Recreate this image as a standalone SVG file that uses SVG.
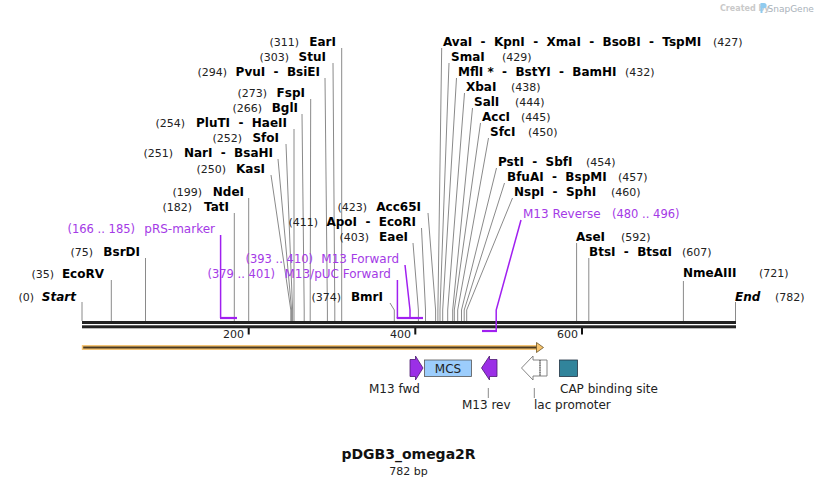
<svg xmlns="http://www.w3.org/2000/svg" width="818" height="487" viewBox="0 0 818 487">
<style>
text{font-family:"DejaVu Sans","Liberation Sans",sans-serif}
.n{font-size:11px;fill:#222}
.b{font-size:12px;font-weight:bold;fill:#000}
.bi{font-size:12px;font-weight:bold;font-style:italic;fill:#000}
.p{font-size:12px;fill:#a43ae6}
.pn{font-size:11.5px;fill:#a43ae6}
.f{font-size:12px;fill:#222}
.e{text-anchor:end}
.l{stroke:#8a8a8a;stroke-width:1;fill:none}
.pl{stroke:#a020f0;stroke-width:1.5;fill:none}
.pb{stroke:#a020f0;stroke-width:2.2;fill:none}
</style>
<rect width="818" height="487" fill="#fff"/>

<g id="watermark">
<text x="720" y="11" style="font-size:8px;font-weight:bold;fill:#c9c9c9">Created by</text>
<path d="M760.5 3h3.5a2.6 2.6 0 0 1 0 5.2h-1.5v4.8h-2z" fill="#8fcbef"/>
<text x="767.5" y="11.5" style="font-size:9px;fill:#a9b2ba">SnapGene</text>
</g>

<g id="backbone">
<rect x="82" y="321" width="654" height="3" fill="#222"/>
<rect x="82" y="325.3" width="654" height="3" fill="#222"/>
<rect x="247.7" y="328" width="2" height="6.5" fill="#111"/>
<rect x="414.3" y="328" width="2" height="6.5" fill="#111"/>
<rect x="581" y="328" width="2" height="6.5" fill="#111"/>
<text class="n e" x="244" y="338">200</text>
<text class="n e" x="411" y="338">400</text>
<text class="n e" x="578" y="338">600</text>
</g>

<g id="connectors">
<polyline class="l" points="82,302 82,321"/>
<polyline class="l" points="111.3,280 111.3,321"/>
<polyline class="l" points="145.5,258 145.5,321"/>
<polyline class="l" points="234.3,213 234.3,321"/>
<polyline class="l" points="248.7,198 248.7,321"/>
<polyline class="l" points="271,175 290.8,310 290.8,321"/>
<polyline class="l" points="278,159 291.6,310 291.6,321"/>
<polyline class="l" points="286,144 292.6,310 292.6,321"/>
<polyline class="l" points="294,129 294,321"/>
<polyline class="l" points="302,114 304.2,310 304.2,321"/>
<polyline class="l" points="310.7,99 310.2,310 310.2,321"/>
<polyline class="l" points="325,78 327.4,310 327.4,321"/>
<polyline class="l" points="333,63 334.8,310 334.8,321"/>
<polyline class="l" points="341.7,48 341.7,321"/>
<polyline class="l" points="390,303 394.3,310 394.3,321"/>
<polyline class="l" points="413,243 418.4,310 418.4,321"/>
<polyline class="l" points="421.5,228 425.5,310 425.5,321"/>
<polyline class="l" points="428,213 435.6,310 435.6,321"/>
<polyline class="l" points="441.7,48 437.9,310 437.9,321"/>
<polyline class="l" points="449,63 440,310 440,321"/>
<polyline class="l" points="456.5,78 442.7,310 442.7,321"/>
<polyline class="l" points="464.5,93 447.7,310 447.7,321"/>
<polyline class="l" points="472.5,108 452.7,310 452.7,321"/>
<polyline class="l" points="480.5,123 454.3,310 454.3,321"/>
<polyline class="l" points="488.5,138 457.7,310 457.7,321"/>
<polyline class="l" points="496.5,168 461.5,310 461.5,321"/>
<polyline class="l" points="504.5,183 464.2,310 464.2,321"/>
<polyline class="l" points="512.5,198 466.7,310 466.7,321"/>
<polyline class="l" points="576.6,243 576.6,321"/>
<polyline class="l" points="588.8,258 588.8,321"/>
<polyline class="l" points="683.4,281 683.4,321"/>
<polyline class="l" points="735.5,302 735.5,321"/>
<polyline class="pl" points="220.6,235 220.6,318"/>
<polyline class="pb" points="220,318 237,318"/>
<polyline class="pl" points="397.4,280 397.4,318"/>
<polyline class="pl" points="405,265 410,310 410,318"/>
<polyline class="pb" points="396.7,318 423,318"/>
<polyline class="pl" points="521,220 496.2,310 496.2,331"/>
<polyline class="pb" points="482,331 497,331"/>
<polyline class="l" points="488.3,388 488.3,398"/>
<polyline class="l" points="534.3,388 534.3,398"/>
</g>

<g id="start"><text class="n e" x="34" y="301">(0)</text><text class="bi e" x="76" y="301">Start</text></g>
<g id="EcoRV"><text class="n e" x="54" y="278">(35)</text><text class="b e" x="104" y="278">EcoRV</text></g>
<g id="BsrDI"><text class="n e" x="93" y="256">(75)</text><text class="b e" x="140" y="256">BsrDI</text></g>
<g id="pRS-marker"><text class="pn e" x="135" y="233">(166 .. 185)</text><text class="p e" x="215" y="233">pRS-marker</text></g>
<g id="TatI"><text class="n e" x="192" y="211">(182)</text><text class="b e" x="229" y="211">TatI</text></g>
<g id="NdeI"><text class="n e" x="202" y="196">(199)</text><text class="b e" x="244" y="196">NdeI</text></g>
<g id="KasI"><text class="n e" x="226" y="173">(250)</text><text class="b e" x="265" y="173">KasI</text></g>
<g id="NarI"><text class="n e" x="173" y="157">(251)</text><text class="b e" x="273" y="157" xml:space="preserve">NarI  -  BsaHI</text></g>
<g id="SfoI"><text class="n e" x="242" y="142">(252)</text><text class="b e" x="279" y="142">SfoI</text></g>
<g id="PluTI"><text class="n e" x="185" y="127">(254)</text><text class="b e" x="287" y="127" xml:space="preserve">PluTI  -  HaeII</text></g>
<g id="BglI"><text class="n e" x="262" y="112">(266)</text><text class="b e" x="298" y="112">BglI</text></g>
<g id="FspI"><text class="n e" x="267" y="97">(273)</text><text class="b e" x="305" y="97">FspI</text></g>
<g id="PvuI"><text class="n e" x="227" y="76">(294)</text><text class="b e" x="320" y="76" xml:space="preserve">PvuI  -  BsiEI</text></g>
<g id="StuI"><text class="n e" x="289" y="61">(303)</text><text class="b e" x="326" y="61">StuI</text></g>
<g id="EarI"><text class="n e" x="299" y="46">(311)</text><text class="b e" x="336" y="46">EarI</text></g>
<g id="M13pUCForward"><text class="pn e" x="275" y="278">(379 .. 401)</text><text class="p e" x="391" y="278">M13/pUC Forward</text></g>
<g id="M13Forward"><text class="pn e" x="313" y="263">(393 .. 410)</text><text class="p e" x="399" y="263">M13 Forward</text></g>
<g id="BmrI"><text class="n e" x="341" y="301">(374)</text><text class="b e" x="383" y="301">BmrI</text></g>
<g id="EaeI"><text class="n e" x="369" y="241">(403)</text><text class="b e" x="408" y="241">EaeI</text></g>
<g id="ApoI"><text class="n e" x="318" y="226">(411)</text><text class="b e" x="416" y="226" xml:space="preserve">ApoI  -  EcoRI</text></g>
<g id="Acc65I"><text class="n e" x="367" y="211">(423)</text><text class="b e" x="421" y="211">Acc65I</text></g>

<g id="AvaI"><text class="b" x="443" y="46" xml:space="preserve">AvaI  -  KpnI  -  XmaI  -  BsoBI  -  TspMI</text><text class="n" x="713" y="46">(427)</text></g>
<g id="SmaI"><text class="b" x="451" y="61">SmaI</text><text class="n" x="502" y="61">(429)</text></g>
<g id="MflI"><text class="b" x="458" y="76" xml:space="preserve">MflI *  -  BstYI  -  BamHI</text><text class="n" x="625" y="76">(432)</text></g>
<g id="XbaI"><text class="b" x="466" y="91">XbaI</text><text class="n" x="511" y="91">(438)</text></g>
<g id="SalI"><text class="b" x="474" y="106">SalI</text><text class="n" x="515" y="106">(444)</text></g>
<g id="AccI"><text class="b" x="482" y="121">AccI</text><text class="n" x="521" y="121">(445)</text></g>
<g id="SfcI"><text class="b" x="490" y="136">SfcI</text><text class="n" x="528" y="136">(450)</text></g>
<g id="PstI"><text class="b" x="498" y="166" xml:space="preserve">PstI  -  SbfI</text><text class="n" x="586" y="166">(454)</text></g>
<g id="BfuAI"><text class="b" x="507" y="181" xml:space="preserve">BfuAI  -  BspMI</text><text class="n" x="618" y="181">(457)</text></g>
<g id="NspI"><text class="b" x="514" y="196" xml:space="preserve">NspI  -  SphI</text><text class="n" x="611" y="196">(460)</text></g>
<g id="M13Reverse"><text class="p" x="523" y="218">M13 Reverse</text><text class="pn" x="612" y="218">(480 .. 496)</text></g>
<g id="AseI"><text class="b" x="576" y="241">AseI</text><text class="n" x="621" y="241">(592)</text></g>
<g id="BtsI"><text class="b" x="589" y="256" xml:space="preserve">BtsI  -  BtsαI</text><text class="n" x="682" y="256">(607)</text></g>
<g id="NmeAIII"><text class="b" x="683" y="277">NmeAIII</text><text class="n" x="759" y="277">(721)</text></g>
<g id="end"><text class="bi" x="735" y="301">End</text><text class="n" x="775" y="301">(782)</text></g>

<g id="feature-bar">
<rect x="82.5" y="345.8" width="455" height="3.4" fill="#4a3a22" stroke="#f7c46e" stroke-width="1.4"/>
<polygon points="536.5,342.5 543.5,347.5 536.5,352.5" fill="#f7c46e" stroke="#6b5428" stroke-width="0.8"/>
</g>

<g id="M13fwd">
<polygon points="410,359.5 415.5,359.5 415.5,356 423,368 415.5,380 415.5,376.5 410,376.5" fill="#9b2fe6" stroke="#4b1a70" stroke-width="0.8"/>
<text class="f" x="369" y="393">M13 fwd</text>
</g>
<g id="MCS">
<rect x="424.5" y="360" width="47" height="16.5" fill="#9ccdfc" stroke="#555" stroke-width="0.8"/>
<text class="f" x="448" y="373" text-anchor="middle">MCS</text>
</g>
<g id="M13rev">
<polygon points="497,359.5 489.5,359.5 489.5,356 481.5,368 489.5,380 489.5,376.5 497,376.5" fill="#9b2fe6" stroke="#4b1a70" stroke-width="0.8"/>
<text class="f" x="462" y="409">M13 rev</text>
</g>
<g id="lac-promoter">
<polygon points="540,360 533,360 533,356 521.5,368 533,380 533,376 540,376" fill="#fff" stroke="#777" stroke-width="0.9"/>
<polyline points="540,360 547,360 547,376 540,376" fill="none" stroke="#777" stroke-width="0.9"/>
<line x1="540" y1="360" x2="540" y2="376" stroke="#555" stroke-width="1" stroke-dasharray="1.2,1.2"/>
<text class="f" x="534" y="409">lac promoter</text>
</g>
<g id="CAP">
<rect x="559.5" y="360" width="18" height="16.5" fill="#31849b" stroke="#234" stroke-width="0.8"/>
<text class="f" x="560" y="393">CAP binding site</text>
</g>

<g id="title">
<text x="408.5" y="459" text-anchor="middle" style="font-size:14px;font-weight:bold;fill:#111">pDGB3_omega2R</text>
<text x="408.5" y="475" text-anchor="middle" style="font-size:11px;fill:#222">782 bp</text>
</g>
</svg>
